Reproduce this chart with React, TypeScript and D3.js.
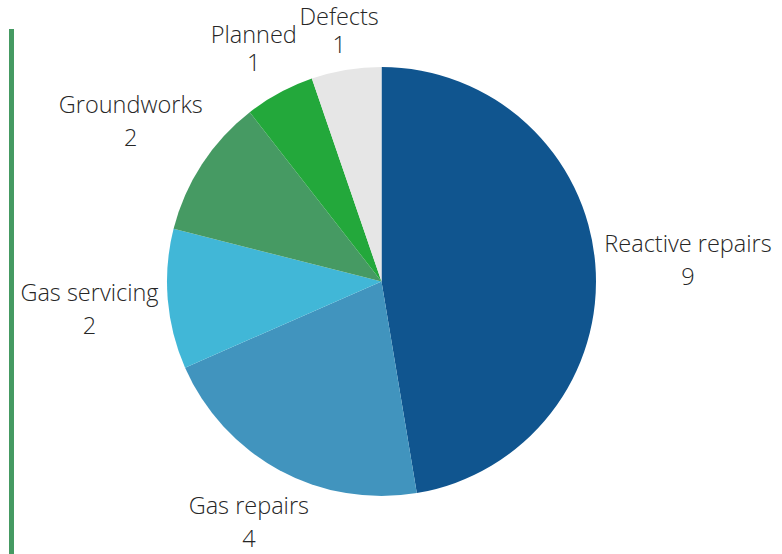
import React, { useEffect, useRef } from 'react';
import * as d3 from 'd3';

const categories = ['Reactive repairs', 'Gas repairs', 'Gas servicing', 'Groundworks', 'Planned', 'Defects'];
const counts = [9, 4, 2, 2, 1, 1];
const colors = ['#10558f', '#4194be', '#41b7d7', '#469a63', '#23a83b', '#e6e6e6'];

const width = 782;
const height = 554;

const App: React.FC = () => {
  const svgRef = useRef<SVGSVGElement | null>(null);

  useEffect(() => {
    const svg = d3.select(svgRef.current);
    svg.selectAll('*').remove();

    const cx = 381.5;
    const cy = 281.5;
    const radius = 214.5;
    const gap = 7;
    const labelShift = 3;

    // green rule on the left
    svg.append('line')
      .attr('x1', 11.5)
      .attr('x2', 11.5)
      .attr('y1', 29)
      .attr('y2', height)
      .attr('stroke', '#459a62')
      .attr('stroke-width', 5);

    const data = categories.map((c, i) => ({ name: c, value: counts[i], color: colors[i] }));

    const pie = d3.pie<typeof data[number]>()
      .sort(null)
      .value(d => d.value);

    const arc = d3.arc<d3.PieArcDatum<typeof data[number]>>()
      .innerRadius(0)
      .outerRadius(radius);

    const arcs = pie(data);

    const g = svg.append('g').attr('transform', `translate(${cx},${cy})`);

    g.selectAll('path')
      .data(arcs)
      .join('path')
      .attr('d', arc)
      .attr('fill', d => d.data.color);

    // labels: name + value, pushed out along the mid angle until the box clears the pie,
    // then kept inside the svg
    arcs.forEach(d => {
      const mid = (d.startAngle + d.endAngle) / 2;
      const ux = Math.sin(mid);
      const uy = -Math.cos(mid);

      const t = g.append('text')
        .attr('text-anchor', 'middle')
        .style('font-family', '"Open Sans", sans-serif')
        .style('font-weight', 300)
        .style('font-size', '23.5px')
        .style('fill', '#262626');

      // labels squeezed against the top edge get tighter lines
      const lineGap = uy < -0.8 ? 28 : 33;
      t.append('tspan').attr('x', 0).attr('y', 0).text(d.data.name);
      t.append('tspan').attr('x', 0).attr('dy', lineGap).text(String(d.data.value));

      const bb = (t.node() as SVGTextElement).getBBox();
      const dist = radius + gap + Math.abs(ux) * bb.width / 2 + Math.abs(uy) * bb.height / 2;
      const tx = ux * dist - (bb.x + bb.width / 2);
      let ty = uy * dist - (bb.y + bb.height / 2) + labelShift;
      ty = Math.max(ty, -cy - bb.y);
      ty = Math.min(ty, height - cy - (bb.y + bb.height));
      t.attr('transform', `translate(${tx},${ty})`);
    });
  }, []);

  return (
    <svg
      ref={svgRef}
      width={width}
      height={height}
      style={{ position: 'absolute', left: 0, top: 0, background: '#fff' }}
    />
  );
};

export default App;
